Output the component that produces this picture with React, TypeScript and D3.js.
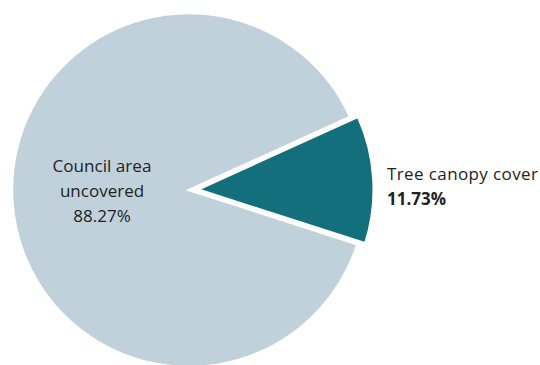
import React from "react";
import * as d3 from "d3";

const categories = ["Tree canopy cover", "Council area uncovered"];
const values = [11.73, 88.27];
const labels = ["11.73%", "88.27%"];
const colors = ["#136f7b", "#c0d1db"];

const W = 540;
const H = 365;
const cx = 189;
const cy = 190;
const R = 177;
const explode = 8;
const startDeg = 65.6;

export default function App() {
  const pie = d3
    .pie<number>()
    .sort(null)
    .value((d) => d)
    .startAngle((startDeg * Math.PI) / 180)
    .endAngle((startDeg * Math.PI) / 180 + 2 * Math.PI);
  const arcs = pie(values);
  const arc = d3.arc<d3.PieArcDatum<number>>().innerRadius(0).outerRadius(R);

  return (
    <svg
      width={W}
      height={H}
      style={{ position: "absolute", left: 0, top: 0, background: "#fff" }}
      fontFamily="'Open Sans', sans-serif"
    >
      <g transform={`translate(${cx},${cy})`}>
        {arcs.map((a, i) => {
          const mid = (a.startAngle + a.endAngle) / 2;
          const off = i === 0 ? explode : 0;
          const dx = Math.sin(mid) * off;
          const dy = -Math.cos(mid) * off;
          return (
            <path
              key={categories[i]}
              d={arc(a) || ""}
              transform={`translate(${dx},${dy})`}
              fill={colors[i]}
              stroke="#fff"
              strokeWidth={i === 0 ? 3 : 2.5}
              strokeLinejoin="miter"
            />
          );
        })}
      </g>
      <text textAnchor="middle" fontSize={17} fill="#222">
        <tspan x={102} y={172} textLength={99} lengthAdjust="spacingAndGlyphs">Council area</tspan>
        <tspan x={102} y={197}>uncovered</tspan>
        <tspan x={102} y={222}>{labels[1]}</tspan>
      </text>
      <text fontSize={17} fill="#222">
        <tspan x={387} y={180} textLength={151} lengthAdjust="spacing">{categories[0]}</tspan>
        <tspan x={387} y={205} fontWeight="bold">{labels[0]}</tspan>
      </text>
    </svg>
  );
}
